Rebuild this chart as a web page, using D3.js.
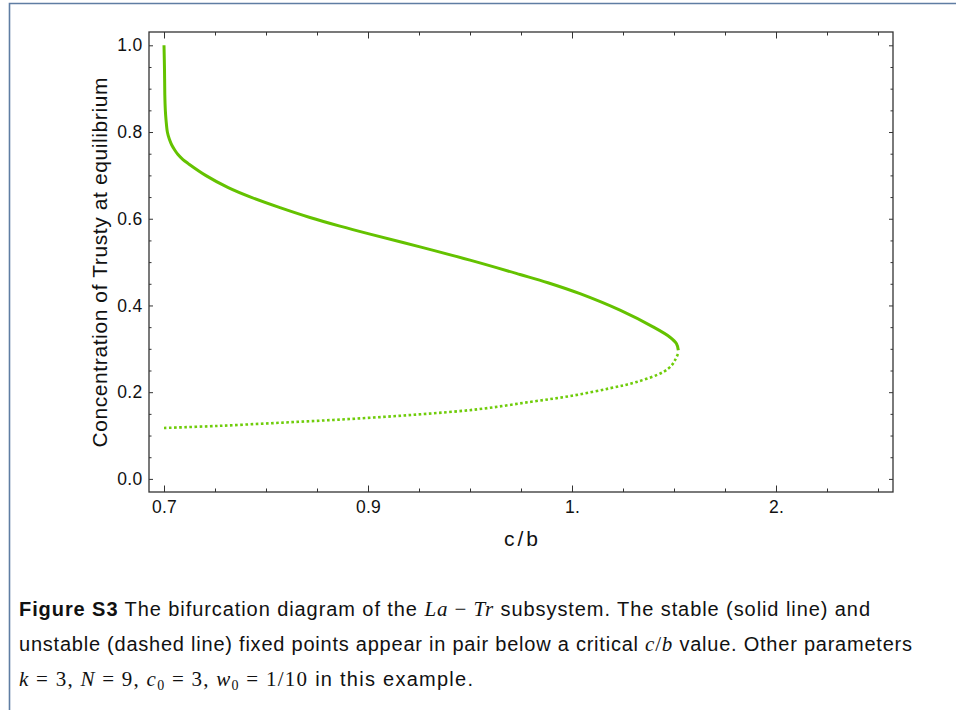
<!DOCTYPE html>
<html>
<head>
<meta charset="utf-8">
<script src="https://cdn.jsdelivr.net/npm/d3@7"></script>
<style>
    body { margin: 0; background: #fff; }
    svg { display: block; }
</style>
</head>
<body>
<div id="chart"></div>
<script>
// stable branch (solid): c/b and Trusty concentration
var stableCb = [0.7, 0.7005, 0.7008, 0.7013, 0.702, 0.7034, 0.7052, 0.7076, 0.7105, 0.7137,
    0.7186, 0.7238, 0.7412, 0.763, 0.7863, 0.8137, 0.8431, 0.8725, 0.901, 0.9255,
    0.95, 0.9745, 0.9882, 1.0392, 1.2353, 1.3971, 1.4804, 1.5123, 1.5211];
var stableTrusty = [1.0, 0.943, 0.8853, 0.8507, 0.8276, 0.7988, 0.7837, 0.77, 0.7585, 0.748,
    0.7364, 0.7272, 0.6995, 0.6718, 0.6487, 0.6257, 0.603, 0.583, 0.5645, 0.5352,
    0.5045, 0.4715, 0.4525, 0.4272, 0.3891, 0.3506, 0.3268, 0.3118, 0.2968];

// unstable branch (dashed)
var unstableCb = [0.7, 0.7517, 0.817, 0.8824, 0.9239, 0.9539, 0.9794, 1.0, 1.186, 1.317,
    1.448, 1.489, 1.505, 1.521];
var unstableTrusty = [0.1175, 0.1221, 0.1299, 0.1382, 0.1484, 0.1606, 0.1775, 0.1918, 0.2091, 0.2236,
    0.2467, 0.2622, 0.2737, 0.29];

// axis ticks (the c/b axis is spaced evenly between its labelled values)
var xTickValues = [0.7, 0.9, 1, 2];
var xTickLabels = ['0.7', '0.9', '1.', '2.'];
var xMinorValues = [0.75, 0.8, 0.85, 0.925, 0.95, 0.975, 1.25, 1.5, 1.75, 2.25, 2.5];
var yTickValues = [0, 0.2, 0.4, 0.6, 0.8, 1.0];
var yMinorValues = [0.05, 0.1, 0.15, 0.25, 0.3, 0.35, 0.45, 0.5, 0.55, 0.65, 0.7, 0.75, 0.85, 0.9, 0.95];

var xLabel = 'c/b';
var yLabel = 'Concentration of Trusty at equilibrium';

function createChart(elementId) {

    var width = 956;
    var height = 710;

    // plot frame
    var frame = { left: 149, right: 893, top: 32, bottom: 492 };
    var tickGap = 204; // px between labelled c/b ticks
    var axisFont = 'Liberation Sans, Arial, sans-serif';

    var svg = d3
        .select(elementId)
        .append('svg')
        .attr('width', width)
        .attr('height', height);

    // page border (top and left edge of the figure box)
    svg.append('path')
        .attr('d', 'M9.5,710 V3.5 H956')
        .style('fill', 'none')
        .style('stroke', '#5f7da3')
        .style('stroke-width', 1.6);

    var x = d3
        .scaleLinear()
        .domain(xTickValues)
        .range(xTickValues.map(function(d, i) { return 164 + i * tickGap; }));

    var y = d3
        .scaleLinear()
        .domain([-0.0302, 1.0307])
        .range([frame.bottom, frame.top]);

    var g = svg.append('g').attr('class', 'plot');

    // ticks: major and minor on all four sides, pointing inward
    function styleAxis(sel) {
        sel.select('.domain').remove();
        sel.selectAll('line').style('stroke', '#333').style('stroke-width', 1);
        sel.selectAll('text')
            .style('font-family', axisFont)
            .style('font-size', '17.5px')
            .style('letter-spacing', '0.3px')
            .style('fill', '#111');
    }

    g.append('g')
        .attr('transform', 'translate(0,' + frame.bottom + ')')
        .call(d3.axisBottom(x).tickValues(xTickValues)
            .tickFormat(function(d, i) { return xTickLabels[i]; })
            .tickSizeInner(-6.5).tickSizeOuter(0).tickPadding(9))
        .call(styleAxis);
    g.append('g')
        .attr('transform', 'translate(0,' + frame.bottom + ')')
        .call(d3.axisBottom(x).tickValues(xMinorValues).tickFormat('')
            .tickSizeInner(-3.5).tickSizeOuter(0))
        .call(styleAxis);
    g.append('g')
        .attr('transform', 'translate(0,' + frame.top + ')')
        .call(d3.axisTop(x).tickValues(xTickValues).tickFormat('')
            .tickSizeInner(-6.5).tickSizeOuter(0))
        .call(styleAxis);
    g.append('g')
        .attr('transform', 'translate(0,' + frame.top + ')')
        .call(d3.axisTop(x).tickValues(xMinorValues).tickFormat('')
            .tickSizeInner(-3.5).tickSizeOuter(0))
        .call(styleAxis);

    g.append('g')
        .attr('transform', 'translate(' + frame.left + ',0)')
        .call(d3.axisLeft(y).tickValues(yTickValues).tickFormat(d3.format('.1f'))
            .tickSizeInner(-4).tickSizeOuter(0).tickPadding(6.5))
        .call(styleAxis);
    g.append('g')
        .attr('transform', 'translate(' + frame.left + ',0)')
        .call(d3.axisLeft(y).tickValues(yMinorValues).tickFormat('')
            .tickSizeInner(-2.5).tickSizeOuter(0))
        .call(styleAxis);
    g.append('g')
        .attr('transform', 'translate(' + frame.right + ',0)')
        .call(d3.axisRight(y).tickValues(yTickValues).tickFormat('')
            .tickSizeInner(-4).tickSizeOuter(0))
        .call(styleAxis);
    g.append('g')
        .attr('transform', 'translate(' + frame.right + ',0)')
        .call(d3.axisRight(y).tickValues(yMinorValues).tickFormat('')
            .tickSizeInner(-2.5).tickSizeOuter(0))
        .call(styleAxis);

    // frame
    g.append('rect')
        .attr('x', frame.left)
        .attr('y', frame.top)
        .attr('width', frame.right - frame.left)
        .attr('height', frame.bottom - frame.top)
        .style('fill', 'none')
        .style('stroke', '#333')
        .style('stroke-width', 1.3);

    // curves
    var line = d3.line()
        .x(function(d) { return x(d[0]); })
        .y(function(d) { return y(d[1]); })
        .curve(d3.curveCatmullRom.alpha(0.5));

    var stable = d3.zip(stableCb, stableTrusty);
    var unstable = d3.zip(unstableCb, unstableTrusty);

    g.append('path')
        .datum(unstable)
        .attr('d', line)
        .style('fill', 'none')
        .style('stroke', '#6fcc0a')
        .style('stroke-width', 2.6)
        .style('stroke-dasharray', '2.6,2.5');

    g.append('path')
        .datum(stable)
        .attr('d', line)
        .style('fill', 'none')
        .style('stroke', '#64c200')
        .style('stroke-width', 3);

    // axis titles
    g.append('text')
        .attr('x', (frame.left + frame.right) / 2 + 1.5)
        .attr('y', 546)
        .attr('text-anchor', 'middle')
        .style('font-family', axisFont)
        .style('font-size', '21px')
        .style('letter-spacing', '3px')
        .style('fill', '#111')
        .text(xLabel);

    g.append('text')
        .attr('transform', 'translate(107,' + ((frame.top + frame.bottom) / 2 + 0.3) + ') rotate(-90)')
        .attr('text-anchor', 'middle')
        .style('font-family', axisFont)
        .style('font-size', '21px')
        .style('letter-spacing', '0.6px')
        .style('fill', '#111')
        .text(yLabel);

    // caption
    var sans = 'Liberation Sans, Arial, sans-serif';
    var serif = 'Liberation Serif, DejaVu Serif, serif';
    var captionLines = [
        [
            { t: 'Figure S3', w: 'bold' },
            { t: ' The bifurcation diagram of the ' },
            { t: 'La', f: serif, i: true },
            { t: ' \u2212 ', f: serif },
            { t: 'Tr', f: serif, i: true },
            { t: ' subsystem. The stable (solid line) and' }
        ],
        [
            { t: 'unstable (dashed line) fixed points appear in pair below a critical ' },
            { t: 'c', f: serif, i: true },
            { t: '/', f: serif },
            { t: 'b', f: serif, i: true },
            { t: ' value. Other parameters' }
        ],
        [
            { t: 'k', f: serif, i: true },
            { t: ' = 3, ', f: serif },
            { t: 'N', f: serif, i: true },
            { t: ' = 9, ', f: serif },
            { t: 'c', f: serif, i: true },
            { t: '0', f: serif, sub: true },
            { t: ' = 3, ', f: serif },
            { t: 'w', f: serif, i: true },
            { t: '0', f: serif, sub: true },
            { t: ' = 1/10', f: serif },
            { t: ' in this example.' }
        ]
    ];
    var captionY = [616, 651, 686];
    var captionWidth = [851, 893, 454];

    captionLines.forEach(function(parts, li) {
        var text = svg.append('text')
            .attr('x', 19)
            .attr('y', captionY[li])
            .attr('textLength', captionWidth[li])
            .attr('lengthAdjust', 'spacing')
            .style('white-space', 'pre')
            .style('font-family', sans)
            .style('font-size', '20px')
            .style('fill', '#111');
        var shifted = false;
        parts.forEach(function(p) {
            var ts = text.append('tspan').text(p.t);
            if (p.f) ts.style('font-family', p.f).style('font-size', '21px');
            if (p.i) ts.style('font-style', 'italic');
            if (p.w) ts.style('font-weight', p.w);
            if (p.sub) {
                ts.attr('dy', 4).style('font-size', '14px');
                shifted = true;
            } else if (shifted) {
                ts.attr('dy', -4);
                shifted = false;
            }
        });
    });
}

createChart('#chart');
</script>
</body>
</html>
